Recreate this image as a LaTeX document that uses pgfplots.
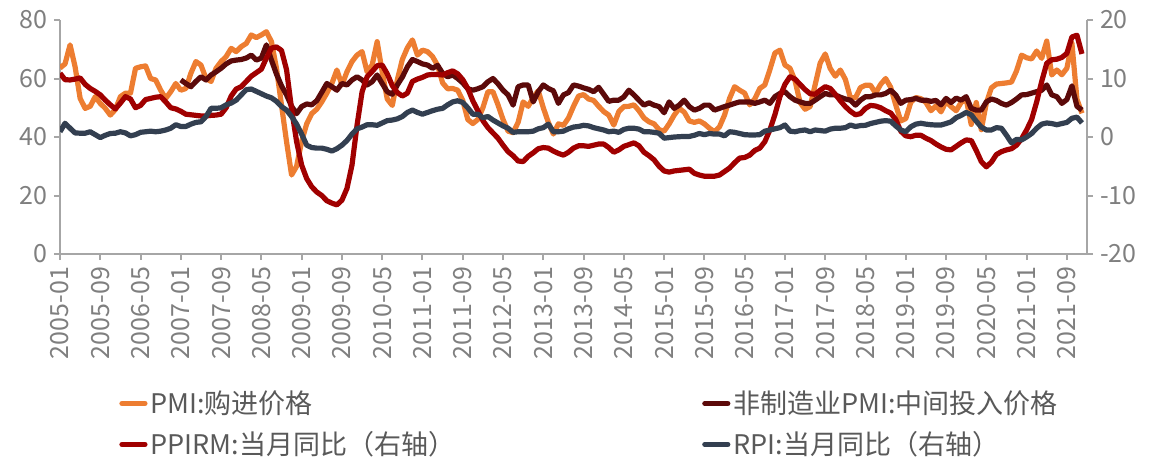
\documentclass[border=0pt]{standalone}
\usepackage{fontspec}
\setmainfont{Noto Sans CJK SC}
\usepackage{pgfplots}
\usepackage{pgfplotstable}
\pgfplotsset{compat=1.18}
\definecolor{pmiorange}{HTML}{ED7D31}
\definecolor{nmimaroon}{HTML}{5C0A0A}
\definecolor{ppired}{HTML}{A00000}
\definecolor{rpislate}{HTML}{333F50}
\definecolor{axisgray}{HTML}{A6A6A6}
\definecolor{labelgray}{HTML}{7F7F7F}
\definecolor{legendgray}{HTML}{595959}

% month pmi nmi ppirm rpi (nmi starts 2007-01)
\pgfplotstableread{
month pmi nmi ppirm rpi
2005-01 63.6 nan 10.9 0.9
2005-02 65.0 nan 9.8 2.35
2005-03 71.5 nan 9.75 1.5
2005-04 64.0 nan 9.9 0.7
2005-05 53.2 nan 10.1 0.65
2005-06 49.8 nan 9.0 0.65
2005-07 50.5 nan 8.3 0.9
2005-08 53.8 nan 7.8 0.4
2005-09 51.5 nan 7.2 -0.1
2005-10 49.8 nan 6.3 0.3
2005-11 47.5 nan 5.5 0.6
2005-12 49.4 nan 4.8 0.65
2006-01 53.8 nan 5.8 0.9
2006-02 55.0 nan 6.9 0.7
2006-03 55.0 nan 6.5 0.2
2006-04 63.5 nan 5.0 0.4
2006-05 64.0 nan 5.4 0.8
2006-06 64.3 nan 6.4 0.9
2006-07 60.0 nan 6.6 1.0
2006-08 59.5 nan 6.8 0.9
2006-09 56.0 nan 6.9 1.0
2006-10 53.2 nan 6.0 1.2
2006-11 55.5 nan 5.0 1.5
2006-12 58.3 nan 4.8 2.1
2007-01 56.0 59.5 4.4 1.8
2007-02 56.6 58.3 3.9 1.8
2007-03 61.8 57.2 3.8 2.2
2007-04 65.8 59.0 3.7 2.5
2007-05 64.6 60.6 3.6 2.6
2007-06 60.0 59.5 3.6 3.5
2007-07 59.0 61.2 3.7 4.9
2007-08 63.5 62.3 3.75 4.9
2007-09 65.8 63.5 3.9 5.0
2007-10 67.5 65.0 5.0 5.5
2007-11 70.3 66.0 7.0 5.8
2007-12 69.2 66.3 8.2 6.3
2008-01 70.9 66.5 8.6 7.2
2008-02 72.0 67.0 9.5 8.1
2008-03 74.9 68.0 10.4 8.2
2008-04 74.0 66.3 11.0 7.8
2008-05 74.9 67.0 11.6 7.4
2008-06 76.0 71.5 13.5 7.0
2008-07 72.6 66.3 15.2 6.7
2008-08 63.5 61.5 15.4 6.1
2008-09 50.9 57.5 14.8 5.2
2008-10 38.4 54.4 11.5 4.6
2008-11 27.0 50.5 4.8 3.5
2008-12 30.0 48.0 -0.8 2.2
2009-01 38.5 50.4 -4.8 0.5
2009-02 44.5 51.3 -7.1 -1.4
2009-03 48.0 51.0 -8.5 -1.8
2009-04 49.5 52.4 -9.4 -1.9
2009-05 52.0 55.3 -10.0 -1.9
2009-06 55.0 58.3 -10.9 -2.1
2009-07 58.3 57.2 -11.3 -2.4
2009-08 62.9 56.0 -11.6 -2.0
2009-09 57.8 58.3 -10.8 -1.4
2009-10 62.3 57.8 -8.8 -0.6
2009-11 65.8 59.5 -4.8 0.5
2009-12 68.0 60.6 2.0 1.4
2010-01 69.2 59.5 7.7 1.7
2010-02 62.3 57.8 10.3 2.1
2010-03 64.6 58.9 11.2 2.1
2010-04 72.6 61.2 12.2 2.0
2010-05 62.3 58.3 12.3 2.4
2010-06 53.0 55.5 10.8 2.8
2010-07 50.8 54.6 8.8 2.9
2010-08 59.5 57.8 7.6 3.1
2010-09 66.5 60.5 7.0 3.5
2010-10 70.5 64.0 7.5 4.2
2010-11 73.2 66.5 9.5 4.6
2010-12 68.0 65.8 9.9 4.2
2011-01 69.7 65.0 10.2 3.9
2011-02 69.2 64.6 10.6 4.2
2011-03 67.5 63.5 10.7 4.5
2011-04 64.5 64.5 10.7 4.75
2011-05 58.5 61.8 10.6 4.9
2011-06 56.5 60.6 11.0 5.5
2011-07 56.6 61.2 11.3 6.0
2011-08 56.0 60.0 10.8 6.2
2011-09 52.5 58.5 9.8 5.9
2011-10 46.0 56.5 8.3 5.0
2011-11 44.6 56.0 6.2 3.9
2011-12 46.0 56.5 4.5 3.9
2012-01 50.0 57.2 2.8 3.3
2012-02 55.5 58.9 1.6 3.5
2012-03 55.5 60.0 0.7 2.9
2012-04 51.0 58.2 -0.2 2.4
2012-05 46.0 56.0 -1.4 1.9
2012-06 42.0 54.4 -2.5 1.5
2012-07 41.5 50.9 -3.2 0.8
2012-08 45.0 57.2 -4.1 0.9
2012-09 52.0 57.8 -4.2 0.9
2012-10 50.5 57.8 -3.3 0.9
2012-11 53.5 52.0 -2.7 1.0
2012-12 55.8 55.5 -2.0 1.4
2013-01 50.0 57.8 -1.8 1.6
2013-02 45.0 56.6 -1.9 2.2
2013-03 41.0 55.8 -2.4 0.9
2013-04 44.5 51.5 -2.8 0.9
2013-05 44.0 54.4 -3.1 1.0
2013-06 46.5 55.2 -2.6 1.4
2013-07 50.5 57.8 -1.9 1.7
2013-08 54.0 57.4 -1.5 1.8
2013-09 54.5 56.8 -1.5 2.0
2013-10 53.0 56.3 -1.6 1.9
2013-11 52.5 55.5 -1.4 1.6
2013-12 50.5 57.0 -1.2 1.4
2014-01 48.7 54.6 -1.2 1.2
2014-02 47.5 52.2 -1.8 0.9
2014-03 44.1 52.6 -2.6 1.0
2014-04 48.7 52.6 -2.2 0.8
2014-05 50.4 53.7 -1.6 1.3
2014-06 50.5 56.0 -1.3 1.5
2014-07 51.0 54.4 -1.0 1.5
2014-08 49.0 52.6 -1.5 1.35
2014-09 46.5 50.9 -2.6 0.9
2014-10 45.2 51.7 -3.2 0.9
2014-11 44.5 50.9 -3.9 0.8
2014-12 42.5 50.4 -5.0 0.65
2015-01 42.0 48.3 -5.8 -0.2
2015-02 44.5 52.0 -6.0 -0.1
2015-03 47.5 49.8 -5.8 0.0
2015-04 49.8 50.9 -5.7 0.05
2015-05 48.5 52.6 -5.6 0.1
2015-06 45.5 50.4 -5.5 0.1
2015-07 45.0 49.2 -6.2 0.3
2015-08 45.5 49.8 -6.5 0.6
2015-09 44.5 50.9 -6.7 0.4
2015-10 43.0 50.9 -6.7 0.6
2015-11 41.8 49.2 -6.7 0.5
2015-12 43.5 49.8 -6.5 0.5
2016-01 47.5 50.4 -5.9 0.2
2016-02 53.2 50.9 -5.3 0.9
2016-03 57.2 51.5 -4.4 0.8
2016-04 56.0 52.0 -3.6 0.6
2016-05 55.0 52.0 -3.5 0.4
2016-06 51.0 52.0 -3.1 0.35
2016-07 53.0 51.5 -2.3 0.35
2016-08 56.6 52.0 -1.9 0.4
2016-09 57.8 52.6 -0.8 1.0
2016-10 63.0 51.5 1.2 1.2
2016-11 68.7 53.8 3.8 1.4
2016-12 69.7 54.9 6.9 1.6
2017-01 64.6 55.5 9.0 2.05
2017-02 63.5 53.8 10.3 1.0
2017-03 59.3 52.6 9.9 0.9
2017-04 51.8 52.0 9.0 1.1
2017-05 49.5 51.5 8.1 1.2
2017-06 50.4 51.5 7.4 0.9
2017-07 57.9 52.6 7.3 1.2
2017-08 65.3 53.8 8.0 1.1
2017-09 68.4 54.9 8.6 1.0
2017-10 63.4 54.4 8.3 1.35
2017-11 60.8 54.4 7.3 1.5
2017-12 62.9 53.6 6.2 1.5
2018-01 59.7 53.0 5.2 1.6
2018-02 53.4 52.6 4.4 2.05
2018-03 53.4 50.9 3.8 1.8
2018-04 56.9 52.6 4.0 1.95
2018-05 57.7 53.8 4.9 2.0
2018-06 57.7 53.8 5.4 2.3
2018-07 55.0 54.4 5.3 2.5
2018-08 58.0 54.4 5.0 2.7
2018-09 60.0 54.9 4.5 2.8
2018-10 57.0 56.0 4.1 2.7
2018-11 51.0 54.4 3.0 1.9
2018-12 45.5 51.5 1.0 1.2
2019-01 46.3 52.6 0.2 0.9
2019-02 51.9 52.8 0.05 1.75
2019-03 53.5 53.2 0.3 2.2
2019-04 53.1 52.6 0.3 2.35
2019-05 51.8 52.6 -0.2 2.2
2019-06 49.0 52.2 -0.6 2.1
2019-07 50.7 52.5 -1.2 2.05
2019-08 48.6 51.0 -1.7 2.05
2019-09 52.2 53.2 -2.1 2.3
2019-10 50.4 51.8 -2.2 2.6
2019-11 49.0 53.3 -1.6 3.3
2019-12 51.8 52.6 -1.0 3.7
2020-01 53.0 53.8 -0.5 4.2
2020-02 44.3 49.8 -0.6 3.8
2020-03 51.8 49.2 -2.3 2.7
2020-04 42.5 49.2 -4.2 1.7
2020-05 51.6 52.0 -5.1 1.2
2020-06 56.8 53.0 -4.3 1.2
2020-07 58.1 52.5 -3.0 1.6
2020-08 58.3 51.5 -2.5 1.5
2020-09 58.5 50.9 -2.2 0.3
2020-10 58.8 51.8 -2.0 -1.0
2020-11 62.6 53.0 -1.4 -0.4
2020-12 68.0 54.4 -0.3 -0.5
2021-01 67.1 54.5 1.2 0.0
2021-02 66.7 55.0 3.0 0.6
2021-03 69.4 55.5 6.0 1.5
2021-04 66.9 56.0 9.5 2.2
2021-05 72.8 57.8 12.6 2.4
2021-06 61.2 54.4 13.2 2.3
2021-07 62.9 53.8 13.3 2.1
2021-08 61.3 51.5 13.6 2.3
2021-09 63.5 52.8 14.3 2.5
2021-10 72.1 57.5 17.1 3.2
2021-11 52.9 50.5 17.4 3.4
2021-12 48.1 49.2 14.2 2.4
}\datatable

\pgfplotsset{
  base/.style={
    scale only axis,
    width=513.5pt, height=117pt,
    at={(30pt,101.5pt)}, anchor=south west,
    xmin=0, xmax=204,
    axis line style={draw=axisgray, line width=1pt},
    tick style={draw=axisgray, line width=1pt},
    tick align=outside,
    major tick length=3pt,
    ticklabel style={font=\fontsize{12.5}{14}\selectfont, text=labelgray},
  },
  series/.style={line width=2.6pt, line join=round, mark=none},
}

\begin{document}
\begin{tikzpicture}
\path[use as bounding box] (0,0) rectangle (575pt,228.5pt);
\begin{axis}[
  base,
  axis x line*=bottom, axis y line*=left,
  ymin=0, ymax=80,
  ytick={0,20,40,60,80}, yticklabels={0,20,40,60,80},
  xtick={0,8,...,200},
  xticklabels={2005-01,2005-09,2006-05,2007-01,2007-09,2008-05,2009-01,2009-09,2010-05,2011-01,2011-09,2012-05,2013-01,2013-09,2014-05,2015-01,2015-09,2016-05,2017-01,2017-09,2018-05,2019-01,2019-09,2020-05,2021-01,2021-09},
  x tick label style={rotate=90, anchor=east},
]
  \addplot[series, pmiorange] table[x expr=\coordindex, y=pmi] {\datatable};
  \addplot[series, nmimaroon] table[x expr=\coordindex, y=nmi] {\datatable};
\end{axis}
\begin{axis}[
  base,
  axis x line=none, axis y line*=right,
  ymin=-20, ymax=20,
  ytick={-20,-10,0,10,20}, yticklabels={-20,-10,0,10,20},
  legend columns=2,
  legend cell align=left,
  legend image code/.code={\draw[#1, line cap=round] (0pt,0pt) -- (11.5pt,0pt);},
  legend style={
    at={(axis description cs:0.0574,-0.565)}, anchor=north west,
    draw=none, fill=none, inner sep=0pt,
    font=\fontsize{13.5}{16}\selectfont, text=legendgray,
    row sep=3.5pt,
    nodes={inner xsep=1.5pt},
    /tikz/every even column/.append style={column sep=122pt},
  },
]
  \addlegendimage{series, pmiorange}
  \addlegendentry{PMI:购进价格}
  \addlegendimage{series, nmimaroon}
  \addlegendentry{非制造业PMI:中间投入价格}
  \addplot[series, ppired] table[x expr=\coordindex, y=ppirm] {\datatable};
  \addlegendentry{PPIRM:当月同比（右轴）}
  \addplot[series, rpislate] table[x expr=\coordindex, y=rpi] {\datatable};
  \addlegendentry{RPI:当月同比（右轴）}
\end{axis}
\end{tikzpicture}
\end{document}
